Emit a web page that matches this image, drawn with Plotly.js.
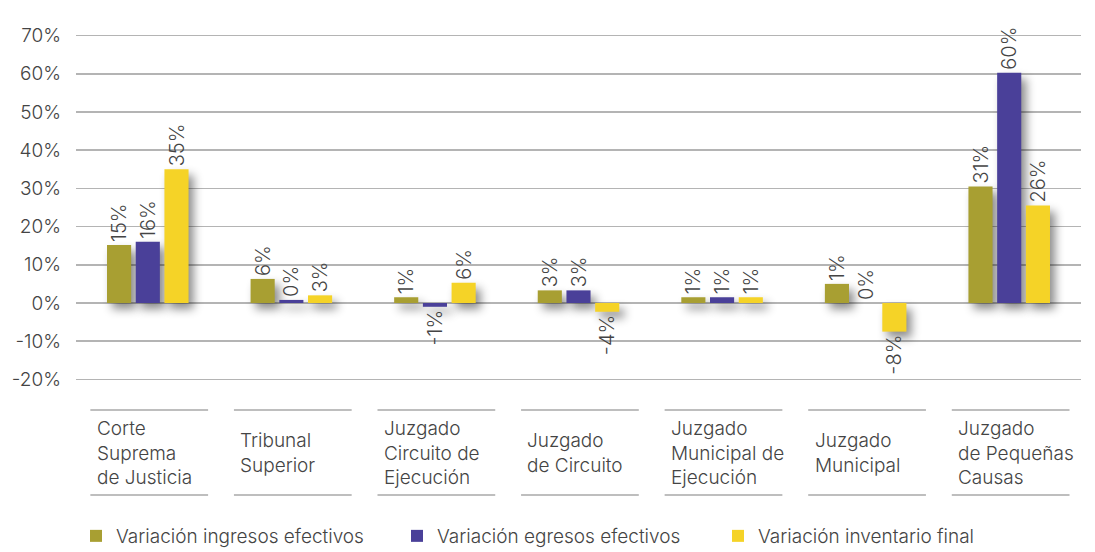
<!DOCTYPE html>
<html>
<head>
<meta charset="utf-8">
<script src="https://cdn.plot.ly/plotly-3.0.1.min.js"></script>
<style>
  html, body { margin: 0; padding: 0; background: #fff; }
  #chart { width: 1095px; height: 552px; }
  .barlayer .point path { filter: drop-shadow(5px 6px 5px rgba(0,0,0,0.45)); }
</style>
</head>
<body>
<div id="chart"></div>
<script>
// Categories (x axis)
const categories = [
  "Corte<br>Suprema<br>de Justicia",
  "Tribunal<br>Superior",
  "Juzgado<br>Circuito de<br>Ejecución",
  "Juzgado<br>de Circuito",
  "Juzgado<br>Municipal de<br>Ejecución",
  "Juzgado<br>Municipal",
  "Juzgado<br>de Pequeñas<br>Causas"
];
const catKeys = ["c1","c2","c3","c4","c5","c6","c7"];

// Series names
const seriesNames = [
  "Variación ingresos efectivos",
  "Variación egresos efectivos",
  "Variación inventario final"
];

// Bar values (%)
const ingresos   = [15.2, 6.3, 1.5, 3.3, 1.5, 5.0, 30.5];
const egresos    = [16.0, 0.8, -1.0, 3.3, 1.5, 0.0, 60.3];
const inventario = [35.0, 2.0, 5.3, -2.3, 1.5, -7.5, 25.5];

// Printed data labels
const ingresosLbl   = ["15%", "6%", "1%", "3%", "1%", "1%", "31%"];
const egresosLbl    = ["16%", "0%", "-1%", "3%", "1%", "0%", "60%"];
const inventarioLbl = ["35%", "3%", "6%", "-4%", "1%", "-8%", "26%"];

// Y axis ticks
const yTicks = [-20, -10, 0, 10, 20, 30, 40, 50, 60, 70];

const colors = ["#A89F32", "#4A4099", "#F5D327"];
const fontFam = "Inter, 'DejaVu Sans', sans-serif";
const fontW = 300;
const txtColor = "#444444";

const seriesVals = [ingresos, egresos, inventario];
const seriesLbls = [ingresosLbl, egresosLbl, inventarioLbl];

const traces = seriesVals.map((vals, k) => ({
  type: "bar",
  name: seriesNames[k],
  x: catKeys,
  y: vals,
  text: seriesLbls[k],
  texttemplate: "%{text}",
  textposition: "outside",
  textangle: -90,
  constraintext: "none",
  cliponaxis: false,
  outsidetextfont: { family: fontFam, size: 20, color: txtColor, weight: fontW },
  marker: { color: colors[k], line: { width: 0 } },
  hoverinfo: "skip"
}));

const annotations = categories.map((c, i) => ({
  xref: "x", yref: "paper",
  x: i - 0.37, y: -0.184,
  xanchor: "left", yanchor: "middle", align: "left",
  text: c, showarrow: false,
  font: { family: fontFam, size: 19, color: txtColor, weight: fontW }
}));

const shapes = [];
categories.forEach((c, i) => {
  [-0.064, -0.301].forEach(py => {
    shapes.push({
      type: "line", xref: "x", yref: "paper",
      x0: i - 0.4, x1: i + 0.42, y0: py, y1: py,
      line: { color: "#a8a8a8", width: 1.5 }
    });
  });
});

const layout = {
  width: 1095, height: 552,
  margin: { l: 76, r: 14, t: 28, b: 165, autoexpand: false },
  paper_bgcolor: "#ffffff",
  plot_bgcolor: "#ffffff",
  barmode: "group",
  bargap: 0.4,
  bargroupgap: 0.16,
  showlegend: true,
  legend: {
    orientation: "h",
    x: 0.0, y: -0.468,
    xanchor: "left", yanchor: "bottom",
    entrywidth: 276, entrywidthmode: "pixels",
    font: { family: fontFam, size: 19, color: txtColor, weight: fontW },
    itemwidth: 30
  },
  xaxis: {
    type: "category",
    showticklabels: false,
    showgrid: false,
    zeroline: false,
    showline: false,
    ticks: "",
    range: [-0.5, 6.5]
  },
  yaxis: {
    range: [-22, 72],
    tickvals: yTicks,
    ticktext: yTicks.map(v => v + "%"),
    showgrid: true,
    gridcolor: "#b4b4b4",
    gridwidth: 1.5,
    zeroline: true,
    zerolinecolor: "#b4b4b4",
    zerolinewidth: 1.5,
    showline: false,
    ticks: "",
    ticklabelstandoff: 14,
    tickfont: { family: fontFam, size: 19, color: txtColor, weight: fontW }
  },
  annotations: annotations,
  shapes: shapes,
  font: { family: fontFam, color: txtColor }
};

Plotly.newPlot("chart", traces, layout, { displayModeBar: false, staticPlot: true });
</script>
</body>
</html>
